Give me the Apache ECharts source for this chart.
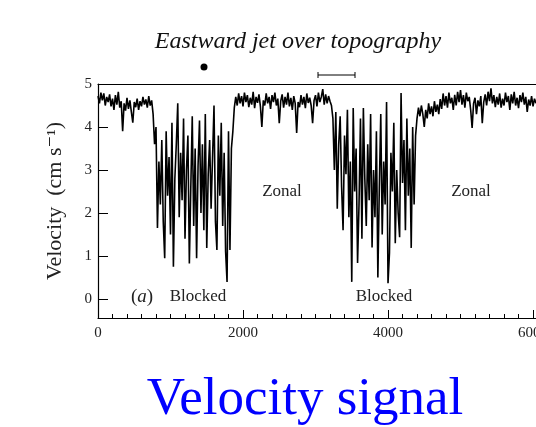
<!DOCTYPE html>
<html>
<head>
<meta charset="utf-8">
<script src="https://cdn.jsdelivr.net/npm/echarts@6/dist/echarts.min.js"></script>
<style>
  html, body { margin: 0; padding: 0; background: #fff; }
  #chart { width: 536px; height: 427px; }
</style>
</head>
<body>
<div id="chart"></div>
<script>
// Velocity record (cm/s), sampled every 20 time units, split by flow regime.
const sampleStep = 20;

const zonalA = [
  4.72, 4.55, 4.80, 4.62, 4.78, 4.50, 4.70, 4.58, 4.76, 4.48,
  4.66, 4.40, 4.74, 4.52, 4.82, 4.45, 4.60, 3.90, 4.55, 4.38,
  4.68, 4.42, 4.62, 4.35, 4.10, 4.58, 4.46, 4.66, 4.40, 4.60,
  4.48, 4.70, 4.52, 4.64, 4.45, 4.72, 4.50, 4.62
];

const blockedA = [
  4.30, 3.60, 4.00, 1.65, 3.20, 2.20, 3.70, 1.80, 0.95, 3.90,
  2.40, 3.30, 1.50, 4.10, 0.75, 2.80, 3.60, 4.55, 1.90, 3.40,
  2.30, 4.20, 1.40, 3.00, 3.80, 0.83, 2.60, 4.25, 1.70, 3.50,
  0.95, 3.10, 4.15, 2.00, 3.60, 1.60, 4.30, 1.19, 2.90, 3.70,
  2.10, 3.30, 4.50, 1.80, 1.14, 3.80, 2.40, 4.10, 1.70, 3.40,
  1.10, 0.40, 3.90, 1.14, 3.50
];

const zonalB = [
  3.90, 4.45, 4.70, 4.50, 4.78, 4.55, 4.72, 4.48, 4.80, 4.58,
  4.74, 4.46, 4.68, 4.52, 4.82, 4.44, 4.70, 4.56, 4.76, 4.48,
  4.00, 4.62, 4.50, 4.78, 4.55, 4.70, 4.42, 4.74, 4.58, 4.80,
  4.50, 4.66, 4.09, 4.60, 4.76, 4.45, 4.70, 4.52, 4.80, 4.48,
  4.68, 4.40, 4.72, 4.55, 3.86, 4.58, 4.46, 4.74, 4.52, 4.70,
  4.44, 4.78, 4.56, 4.68, 4.50, 4.09, 4.62, 4.74, 4.48, 4.80,
  4.58, 4.70, 4.88, 4.52, 4.76, 4.55, 4.72, 4.60, 4.50
];

const blockedB = [
  4.20, 3.00, 4.35, 2.10, 3.60, 4.25, 2.60, 1.60, 3.80, 2.90,
  4.40, 1.90, 3.20, 0.40, 4.44, 2.50, 3.50, 0.84, 2.20, 4.20,
  1.40, 4.44, 2.80, 1.70, 3.60, 2.30, 4.30, 1.20, 3.00, 1.90,
  3.90, 0.50, 2.60, 4.30, 1.50, 3.20, 2.20, 4.58, 0.37, 1.07,
  3.40, 2.50, 4.10, 1.30, 3.00, 2.00, 1.44, 4.79, 2.70, 3.70,
  1.60, 4.20, 2.40, 3.50, 1.19, 4.00, 2.20
];

const zonalC = [
  3.80, 4.20, 4.45, 4.25, 4.50, 4.30, 4.00, 4.40, 4.20, 4.55,
  4.30, 4.48, 4.25, 4.60, 4.35, 4.52, 4.30, 4.65, 4.42, 4.78,
  4.50, 4.72, 4.45, 4.80, 4.55, 4.68, 4.40, 4.75, 4.50, 4.82,
  4.58, 4.86, 4.52, 4.74, 4.45, 4.80, 4.60, 4.70, 4.40, 3.98,
  4.55, 4.68, 4.30, 4.62, 4.48, 4.72, 4.09, 4.58, 4.76, 4.50,
  4.82, 4.60, 4.90, 4.55, 4.74, 4.46, 4.70, 4.52, 4.78, 4.45,
  4.66, 4.50, 4.80, 4.58, 4.72, 4.40, 4.76, 4.55, 4.82, 4.50,
  4.68, 4.44, 4.74, 4.58, 4.80, 4.52, 4.70, 4.35, 4.64, 4.50,
  4.72, 4.48, 4.66, 4.55
];

const yTicks = [0, 1, 2, 3, 4, 5];
const xTicks = [0, 2000, 4000, 6000];

const velocity = [].concat(zonalA, blockedA, zonalB, blockedB, zonalC);
const seriesData = velocity.map((v, i) => [i * sampleStep, v]);

const serif = '"Liberation Serif", "DejaVu Serif", serif';
const ink = '#222';

const chart = echarts.init(document.getElementById('chart'), null, { renderer: 'canvas' });

chart.setOption({
  animation: false,
  backgroundColor: '#fff',
  grid: { left: 98, top: 84, right: 0, height: 234, containLabel: false, outerBoundsMode: 'none' },
  xAxis: [
    {
      type: 'value', min: 0, max: 6041, interval: 2000, position: 'bottom',
      axisLine: { show: true, onZero: false, lineStyle: { color: '#000', width: 1.2 } },
      axisTick: { show: true, inside: true, length: 8, customValues: xTicks, lineStyle: { color: '#000' } },
      minorTick: { show: true, splitNumber: 10, length: 4, lineStyle: { color: '#000' } },
      axisLabel: {
        customValues: xTicks, fontFamily: serif, fontSize: 15, color: ink, margin: 8,
        formatter: (v) => String(v)
      },
      splitLine: { show: false }
    },
    {
      type: 'value', min: 0, max: 6041, position: 'top',
      axisLine: { show: true, onZero: false, lineStyle: { color: '#000', width: 1.2 } },
      axisTick: { show: false }, axisLabel: { show: false }, splitLine: { show: false }
    }
  ],
  yAxis: {
    type: 'value', min: -0.44, max: 5,
    axisLine: { show: true, onZero: false, lineStyle: { color: '#000', width: 1.2 } },
    axisTick: { show: true, inside: true, length: 10, customValues: yTicks, lineStyle: { color: '#000' } },
    axisLabel: { customValues: yTicks, fontFamily: serif, fontSize: 15, color: ink, margin: 6 },
    splitLine: { show: false }
  },
  series: [{
    type: 'line',
    data: seriesData,
    showSymbol: false,
    sampling: null,
    lineStyle: { color: '#000', width: 1.6 },
    clip: true
  }],
  graphic: [
    { type: 'text', x: 298, y: 42, style: { text: 'Eastward jet over topography', fontFamily: serif, fontStyle: 'italic', fontSize: 24, fill: '#111', align: 'center', verticalAlign: 'middle' } },
    { type: 'circle', shape: { cx: 204, cy: 67, r: 3.5 }, style: { fill: '#000' } },
    { type: 'line', shape: { x1: 318, y1: 75, x2: 355, y2: 75 }, style: { stroke: '#000', lineWidth: 1 } },
    { type: 'line', shape: { x1: 318, y1: 72, x2: 318, y2: 78 }, style: { stroke: '#000', lineWidth: 1 } },
    { type: 'line', shape: { x1: 355, y1: 72, x2: 355, y2: 78 }, style: { stroke: '#000', lineWidth: 1 } },
    { type: 'text', x: 55, y: 201, rotation: Math.PI / 2, style: { text: 'Velocity  (cm s⁻¹)', fontFamily: serif, fontSize: 22, fill: ink, align: 'center', verticalAlign: 'middle' } },
    { type: 'text', x: 142, y: 297, style: {
        text: '{p|(}{a|a}{p|)}', align: 'center', verticalAlign: 'middle',
        rich: {
          p: { fontFamily: serif, fontSize: 19, fill: ink },
          a: { fontFamily: serif, fontStyle: 'italic', fontSize: 19, fill: ink }
        }
      } },
    { type: 'text', x: 198, y: 297, style: { text: 'Blocked', fontFamily: serif, fontSize: 17, fill: ink, align: 'center', verticalAlign: 'middle' } },
    { type: 'text', x: 384, y: 297, style: { text: 'Blocked', fontFamily: serif, fontSize: 17, fill: ink, align: 'center', verticalAlign: 'middle' } },
    { type: 'text', x: 282, y: 192, style: { text: 'Zonal', fontFamily: serif, fontSize: 17, fill: ink, align: 'center', verticalAlign: 'middle' } },
    { type: 'text', x: 471, y: 192, style: { text: 'Zonal', fontFamily: serif, fontSize: 17, fill: ink, align: 'center', verticalAlign: 'middle' } },
    { type: 'text', x: 305, y: 400, style: { text: 'Velocity signal', fontFamily: serif, fontSize: 53, fill: '#0000ff', align: 'center', verticalAlign: 'middle' } }
  ]
});
</script>
</body>
</html>
